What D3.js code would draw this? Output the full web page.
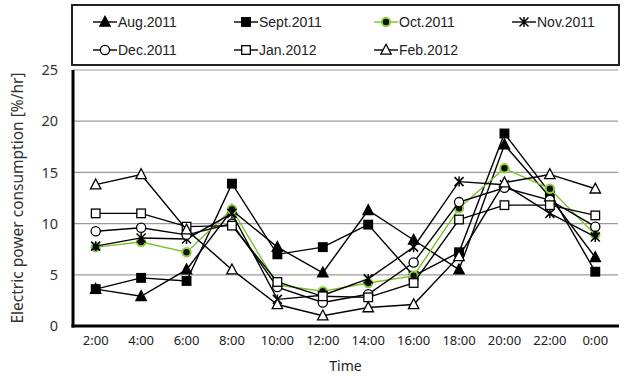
<!DOCTYPE html>
<html><head><meta charset="utf-8">
<script src="https://cdn.jsdelivr.net/npm/d3@7"></script>
<style>body{margin:0;background:#fff}svg{display:block}</style>
</head><body>
<svg id="c" width="624" height="376"></svg>
<script>
const times = ["2:00","4:00","6:00","8:00","10:00","12:00","14:00","16:00","18:00","20:00","22:00","0:00"];
const yTicks = [0,5,10,15,20,25];
const seriesNames = ["Aug.2011","Sept.2011","Oct.2011","Nov.2011","Dec.2011","Jan.2012","Feb.2012"];
const aug  = [3.6, 2.9, 5.5, 11.3, 7.7, 5.2, 11.3, 8.4, 5.5, 17.7, 12.6, 6.7];
const sept = [3.6, 4.7, 4.4, 13.9, 7.0, 7.7, 9.9, 4.9, 7.2, 18.8, 13.0, 5.3];
const oct  = [7.7, 8.2, 7.2, 11.4, 4.0, 3.4, 4.2, 4.9, 11.5, 15.4, 13.4, 8.9];
const nov  = [7.8, 8.6, 8.5, 11.0, 2.6, 3.0, 4.6, 7.7, 14.1, 13.8, 11.0, 8.7];
const dec  = [9.25, 9.6, 8.9, 10.0, 3.8, 2.3, 3.1, 6.2, 12.1, 13.5, 12.3, 9.7];
const jan  = [11.0, 11.0, 9.7, 9.8, 4.3, 2.9, 2.8, 4.2, 10.4, 11.8, 11.8, 10.8];
const feb  = [13.8, 14.8, 9.4, 5.5, 2.1, 1.0, 1.8, 2.1, 6.8, 14.0, 14.8, 13.4];

const seriesValues = [aug, sept, oct, nov, dec, jan, feb];
const markerTypes = ["triF","sqF","circG","star","circO","sqO","triO"];
const lineColors = ["#000","#000","#7fbf2a","#000","#000","#000","#000"];

const svg = d3.select("#c");
const L=73, R=618, T=70, B=326;
const x = d3.scaleBand().domain(times).range([L,R]).padding(0);
const cx = t => x(t) + x.bandwidth()/2;
const y = d3.scaleLinear().domain([0,25]).range([B,T]);

// grid
svg.append("g").selectAll("line").data(yTicks.filter(d=>d>0)).join("line")
  .attr("x1",L).attr("x2",R).attr("y1",d=>y(d)).attr("y2",d=>y(d))
  .attr("stroke","#9a9a9a").attr("stroke-width",1.2);

// axes
const yAxis = d3.axisLeft(y).tickValues(yTicks).tickSize(0).tickPadding(15);
const gy = svg.append("g").attr("transform",`translate(${L},0)`).call(yAxis);
gy.select(".domain").remove();
gy.selectAll("text").attr("font-family","Noto Sans, Arial, sans-serif").attr("font-size",14.5).attr("fill","#333");

const xAxis = d3.axisBottom(x).tickSize(0).tickPadding(10);
const gx = svg.append("g").attr("transform",`translate(0,${B})`).call(xAxis);
gx.select(".domain").remove();
gx.selectAll("text").attr("font-family","Noto Sans, Arial, sans-serif").attr("font-size",13).attr("fill","#222");

svg.append("line").attr("x1",L).attr("x2",L).attr("y1",T).attr("y2",B+1.5).attr("stroke","#000").attr("stroke-width",3);
svg.append("line").attr("x1",L-1.5).attr("x2",R+1).attr("y1",B).attr("y2",B).attr("stroke","#000").attr("stroke-width",3);

svg.append("text").attr("x",(L+R)/2).attr("y",371).attr("text-anchor","middle")
  .attr("font-family","Noto Sans, Arial, sans-serif").attr("font-size",14).attr("fill","#222").text("Time");
svg.append("text").attr("transform",`translate(23,${(T+B)/2}) rotate(-90)`).attr("text-anchor","middle")
  .attr("font-family","Noto Sans, Arial, sans-serif").attr("font-size",15.5).attr("fill","#333")
  .text("Electric power consumption [%/hr]");

function drawMarker(g, type, px, py){
  if(type==="triF"||type==="triO"){
    const s=5.2;
    g.append("path").attr("d",`M${px},${py-s-0.5}L${px+s},${py+s-1}L${px-s},${py+s-1}Z`)
      .attr("fill",type==="triF"?"#000":"#fff").attr("stroke","#000").attr("stroke-width",1.3);
  } else if(type==="sqF"||type==="sqO"){
    const s=4.3;
    g.append("rect").attr("x",px-s).attr("y",py-s).attr("width",2*s).attr("height",2*s)
      .attr("fill",type==="sqF"?"#000":"#fff").attr("stroke","#000").attr("stroke-width",1.3);
  } else if(type==="circG"){
    g.append("circle").attr("cx",px).attr("cy",py).attr("r",4.2).attr("fill","#111")
      .attr("stroke","#8fd13a").attr("stroke-width",2);
  } else if(type==="circO"){
    g.append("circle").attr("cx",px).attr("cy",py).attr("r",4.6).attr("fill","#fff")
      .attr("stroke","#000").attr("stroke-width",1.3);
  } else if(type==="star"){
    const s=4.5;
    g.append("path").attr("d",`M${px-s},${py-s}L${px+s},${py+s}M${px+s},${py-s}L${px-s},${py+s}M${px},${py-s-0.5}L${px},${py+s+0.5}`)
      .attr("stroke","#000").attr("stroke-width",1.5).attr("fill","none");
  }
}

const line = d3.line().x((d,i)=>cx(times[i])).y(d=>y(d));
seriesValues.forEach((vals,si)=>{
  const g = svg.append("g");
  g.append("path").attr("d",line(vals)).attr("fill","none")
    .attr("stroke",lineColors[si]).attr("stroke-width",1.4);
  vals.forEach((v,i)=>drawMarker(g, markerTypes[si], cx(times[i]), y(v)));
});

// legend
svg.append("rect").attr("x",72).attr("y",5).attr("width",547).attr("height",60)
  .attr("fill","#fff").attr("stroke","#222").attr("stroke-width",2);
const legX = [105, 246, 386, 524];
const legY = [22, 50];
seriesNames.forEach((nm,i)=>{
  const mx = legX[i%4], my = legY[Math.floor(i/4)];
  const g = svg.append("g");
  g.append("line").attr("x1",mx-12).attr("x2",mx+12).attr("y1",my).attr("y2",my)
    .attr("stroke",lineColors[i]).attr("stroke-width",1.4);
  drawMarker(g, markerTypes[i], mx, my);
  g.append("text").attr("x",mx+13).attr("y",my+5).attr("font-family","Liberation Sans, Arial, sans-serif")
    .attr("font-size",14).attr("fill","#222").text(nm);
});
</script>
</body></html>
